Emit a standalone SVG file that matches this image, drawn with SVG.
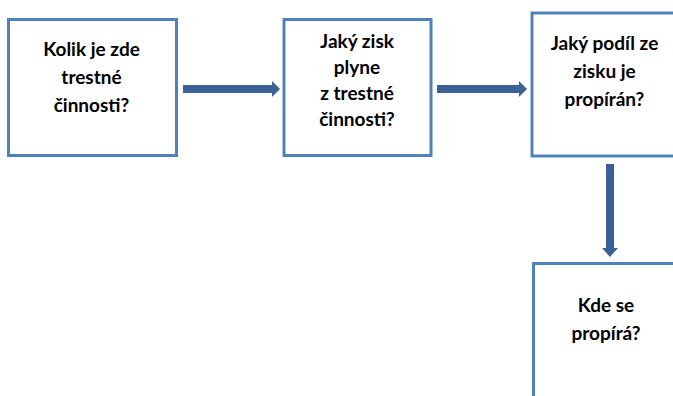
<svg xmlns="http://www.w3.org/2000/svg" width="673" height="396" viewBox="0 0 673 396">
<style>
.box{fill:#ffffff;stroke:#4F81BD;stroke-width:3}
.t{font-family:Lato,"Liberation Sans",sans-serif;font-weight:bold;font-size:19px;fill:#000000;text-anchor:middle}
.arr{fill:#3B6296}
</style>
<rect width="673" height="396" fill="#ffffff"/>
<g id="node1">
<rect class="box" x="8.5" y="19.5" width="168" height="136"/>
<text class="t" x="91.5" y="56">Kolik je zde</text>
<text class="t" x="91.5" y="84">trestné</text>
<text class="t" x="91.5" y="112">činnosti?</text>
</g>
<g id="node2">
<rect class="box" x="284" y="19.5" width="147" height="136"/>
<text class="t" x="357" y="48">Jaký zisk</text>
<text class="t" x="357" y="74">plyne</text>
<text class="t" x="357" y="100">z trestné</text>
<text class="t" x="357" y="126">činnosti?</text>
</g>
<g id="node3">
<rect class="box" x="532" y="13" width="200" height="143"/>
<text class="t" x="604.5" y="50">Jaký podíl ze</text>
<text class="t" x="604.5" y="78">zisku je</text>
<text class="t" x="604.5" y="106">propírán?</text>
</g>
<g id="node4">
<rect class="box" x="533.5" y="263.5" width="200" height="200"/>
<text class="t" x="606" y="312">Kde se</text>
<text class="t" x="606" y="340">propírá?</text>
</g>
<g id="connectors">
<polygon class="arr" points="183,85 272,85 272,81 280,89 272,97 272,93 183,93"/>
<polygon class="arr" points="437,85 519,85 519,81 527,89 519,97 519,93 437,93"/>
<polygon class="arr" points="606,164 614,164 614,248 618,248 610,257 602,248 606,248"/>
</g>
</svg>
